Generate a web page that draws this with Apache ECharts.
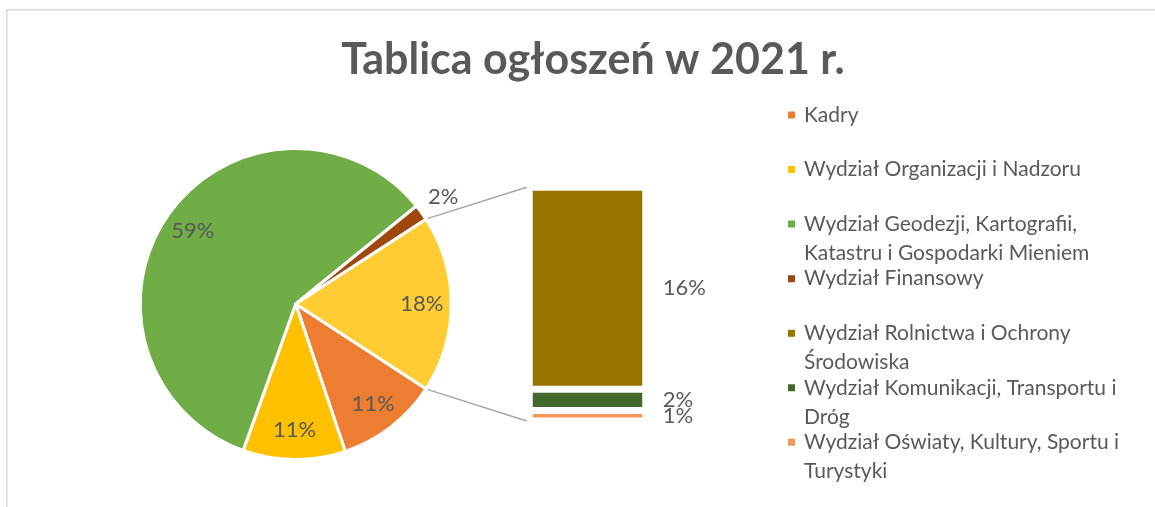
<!DOCTYPE html>
<html>
<head>
<meta charset="utf-8">
<script src="https://cdn.jsdelivr.net/npm/echarts@6/dist/echarts.min.js"></script>
<style>
  html, body { margin: 0; padding: 0; background: #fff; }
  #chart { width: 1155px; height: 507px; }
</style>
</head>
<body>
<div id="chart"></div>
<script>
// liczba ogłoszeń wg wydziałów
var pieNames = ['Kadry', 'Wydział Organizacji i Nadzoru', 'Wydział Geodezji, Kartografii, Katastru i Gospodarki Mieniem', 'Wydział Finansowy'];
var pieValues = [51, 51, 281, 8];
var barNames = ['Wydział Rolnictwa i Ochrony Środowiska', 'Wydział Komunikacji, Transportu i Dróg', 'Wydział Oświaty, Kultury, Sportu i Turystyki'];
var barValues = [76, 8, 4];
var otherName = 'Pozostałe';
var titleText = 'Tablica ogłoszeń w 2021 r.';

var pieColors = ['#ED7D31', '#FFC000', '#70AD47', '#9E480E'];
var barColors = ['#997300', '#43682B', '#F1975A'];
var otherColor = '#FFCD33';

var FONT = 'Lato';
var TXT = '#595959';
var LABEL_SIZE = 22;
var LEGEND_SIZE = 21;
var LINE_H = 29;
var WRAP_W = 350;

var cx = 295.7, cy = 304, R = 154;
var gridLeft = 529.25, gridTop = 187.25, gridW = 116.5, gridH = 233.75;

function sum(a) { return a.reduce(function (s, v) { return s + v; }, 0); }
var barTotal = sum(barValues);
var total = sum(pieValues) + barTotal;
var halfOther = barTotal / total * 180;
function pct(v) { return Math.round(v / total * 100) + '%'; }

var pieData = pieNames.map(function (n, i) {
  return { name: n, value: pieValues[i], itemStyle: { color: pieColors[i] } };
}).concat([{ name: otherName, value: barTotal, itemStyle: { color: otherColor } }]);

function overlayData(showIdx) {
  return pieData.map(function (d, i) {
    return { name: d.name, value: d.value, label: { show: showIdx(i) } };
  });
}

var labelStyle = {
  position: 'inside',
  fontFamily: FONT,
  fontSize: LABEL_SIZE,
  color: TXT,
  formatter: function (p) { return pct(p.value); }
};

var series = [{
  type: 'pie',
  center: [cx, cy],
  radius: [0, R + 1.5],
  startAngle: -halfOther,
  avoidLabelOverlap: false,
  silent: true,
  label: { show: false },
  labelLine: { show: false },
  itemStyle: { borderColor: '#fff', borderWidth: 3 },
  data: pieData
}, {
  // etykiety wewnątrz wycinków
  type: 'pie',
  center: [cx, cy],
  radius: [R * 0.6, R],
  startAngle: -halfOther,
  avoidLabelOverlap: false,
  silent: true,
  itemStyle: { color: 'transparent' },
  label: labelStyle,
  labelLine: { show: false },
  data: overlayData(function (i) { return i !== 3; })
}, {
  // etykieta małego wycinka na zewnątrz
  type: 'pie',
  center: [cx, cy],
  radius: [R, R * 1.33],
  startAngle: -halfOther,
  avoidLabelOverlap: false,
  silent: true,
  itemStyle: { color: 'transparent' },
  label: labelStyle,
  labelLine: { show: false },
  data: overlayData(function (i) { return i === 3; })
}];

for (var i = barNames.length - 1; i >= 0; i--) {
  series.push({
    type: 'bar',
    name: barNames[i],
    stack: 'inne',
    barWidth: '100%',
    silent: true,
    data: [barValues[i]],
    itemStyle: { color: barColors[i], borderColor: '#fff', borderWidth: 3.5 },
    label: {
      show: true,
      position: 'right',
      distance: 17,
      fontFamily: FONT,
      fontSize: LABEL_SIZE,
      color: TXT,
      formatter: function (p) { return pct(p.value); }
    }
  });
}

// zawijanie nazw w legendzie
var ctx = document.createElement('canvas').getContext('2d');
ctx.font = LEGEND_SIZE + 'px ' + FONT;
function wrap(t) {
  var words = t.split(' '), lines = [], cur = '';
  words.forEach(function (w) {
    var test = cur ? cur + ' ' + w : w;
    if (cur && ctx.measureText(test).width > WRAP_W) {
      lines.push(cur);
      cur = w;
    } else {
      cur = test;
    }
  });
  lines.push(cur);
  return lines;
}

var legendNames = pieNames.concat(barNames);
var legends = legendNames.map(function (name, i) {
  var lines = wrap(name);
  var n = lines.length;
  // puste linie nad tekstem, żeby ikona stała przy pierwszej linii
  var text = new Array(n).join(' \n') + lines.join('\n');
  var iconY = 115 + i * 54.55;
  return {
    data: [name],
    orient: 'vertical',
    left: 786,
    top: iconY - (2 * n - 1) * LINE_H / 2,
    padding: 0,
    itemWidth: 9,
    itemHeight: 9,
    icon: 'rect',
    selectedMode: false,
    formatter: function () { return text; },
    textStyle: {
      fontFamily: FONT,
      fontSize: LEGEND_SIZE,
      color: TXT,
      lineHeight: LINE_H,
      padding: [0, 0, 0, 3]
    }
  };
});

var chart = echarts.init(document.getElementById('chart'), null, { renderer: 'canvas' });
chart.setOption({
  backgroundColor: '#fff',
  animation: false,
  title: {
    text: titleText,
    left: 588,
    textAlign: 'center',
    top: 34,
    textStyle: { fontFamily: FONT, fontWeight: 'bold', fontSize: 43, color: TXT }
  },
  legend: legends,
  grid: { left: gridLeft, top: gridTop, width: gridW, height: gridH },
  xAxis: { type: 'category', data: [otherName], show: false },
  yAxis: { type: 'value', min: 0, max: barTotal, show: false },
  series: series,
  graphic: [{
    id: 'ramka',
    type: 'rect',
    silent: true,
    shape: { x: 6.75, y: 9.75, width: 1300, height: 700 },
    style: { fill: 'none', stroke: '#D9D9D9', lineWidth: 1.5 }
  }]
});

// linie łączące wycinek "pozostałe" ze słupkiem
var a = halfOther * Math.PI / 180;
var yTop = chart.convertToPixel({ yAxisIndex: 0 }, barTotal);
var yBot = chart.convertToPixel({ yAxisIndex: 0 }, 0);
var xBar = gridLeft - 2.5;
chart.setOption({
  graphic: [{
    id: 'linia1',
    type: 'line',
    silent: true,
    shape: { x1: cx + (R + 2) * Math.cos(a), y1: cy - (R + 2) * Math.sin(a), x2: xBar, y2: yTop },
    style: { stroke: '#A6A6A6', lineWidth: 1.5 }
  }, {
    id: 'linia2',
    type: 'line',
    silent: true,
    shape: { x1: cx + (R + 2) * Math.cos(a), y1: cy + (R + 2) * Math.sin(a), x2: xBar, y2: yBot },
    style: { stroke: '#A6A6A6', lineWidth: 1.5 }
  }]
});
</script>
</body>
</html>
